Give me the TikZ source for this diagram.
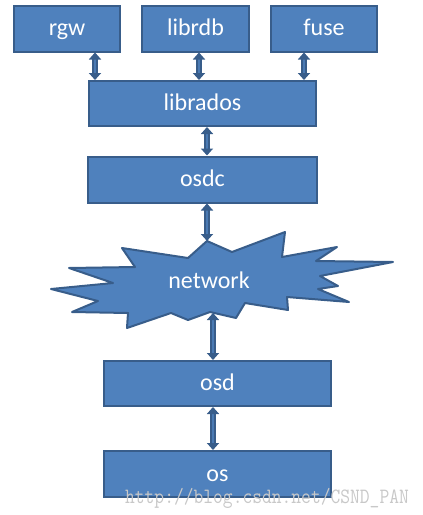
\documentclass[tikz,border=0pt]{standalone}
\usepackage{fontspec}
\setmainfont{Carlito}
\usetikzlibrary{arrows.meta}
\definecolor{boxblue}{HTML}{4F81BD}
\definecolor{edgeblue}{HTML}{385D8A}
\definecolor{markgray}{HTML}{C8C8C8}
\tikzset{>={Triangle[width=12pt,length=7pt]}}
\tikzset{
  layer/.style={draw=edgeblue, line width=2pt, fill=boxblue, text=white,
    font=\fontsize{24}{26}\selectfont, inner sep=0pt, minimum height=46,
    text height=16pt, text depth=2pt},
  cloud/.style={draw=edgeblue, line width=2pt, fill=boxblue, line join=round},
  link/.style={<->, edgeblue, line width=1.8pt, double=boxblue!80!edgeblue, double distance=1.6pt},
  wmark/.style={text=markgray, font=\fontsize{19}{20}\ttfamily, inner sep=0pt, yscale=1.15, transform shape}
}

\begin{document}
\begin{tikzpicture}[x=1pt, y=-1pt]
    \useasboundingbox (0,0) rectangle (423,515);
    % top row
    \node[layer, minimum width=106] (rgw) at (67,28.5) {rgw};
    \node[layer, minimum width=107] (librdb) at (195.5,28.5) {librdb};
    \node[layer, minimum width=106] (fuse) at (324,28.5) {fuse};
    \node[layer, minimum width=227, minimum height=45] (librados) at (202.5,103.5) {librados};
    \node[layer, minimum width=229] (osdc) at (202.5,179.5) {osdc};
    % network cloud
    \draw[cloud] (207,241) -- (232,252) -- (285,232) -- (282,257) -- (337,247)
        -- (316,261) -- (393,262) -- (320,276) -- (338,286) -- (318,289)
        -- (349,302) -- (287,297) -- (288,310) -- (245,303) -- (236,318)
        -- (210,312) -- (188,320) -- (171,313) -- (127,328) -- (128,313)
        -- (72,312) -- (98,301) -- (51,289) -- (113,283) -- (69,268)
        -- (135,267) -- (122,248) -- (188,258) -- cycle;
    \node[text=white, font=\fontsize{24}{26}\selectfont, text height=16pt, text depth=2pt] (network) at (209,281) {network};
    \coordinate (nettop) at (207,241);
    \coordinate (netbot) at (213,313);
    \node[layer, minimum width=227, minimum height=45] (osd) at (217.5,383.5) {osd};
    \node[layer, minimum width=227] (os) at (217.5,474) {os};
    % connectors
    \draw[link] ([xshift=-26]rgw.south east) -- ([xshift=-26]rgw.south east |- librados.north);
    \draw[link] ([xshift=3.5]librdb.south) -- ([xshift=3.5]librdb.south |- librados.north);
    \draw[link] ([xshift=-20]fuse.south) -- ([xshift=-20]fuse.south |- librados.north);
    \draw[link] ([xshift=4.5]librados.south) -- ([xshift=4.5]osdc.north);
    \draw[link] ([xshift=4.5]osdc.south) -- (nettop);
    \draw[link] (netbot) -- ([xshift=-4.5]osd.north);
    \draw[link] ([xshift=-4.5]osd.south) -- ([xshift=-4.5]os.north);
    % watermark
    \node[wmark] (url) at (267,498) {http://blog.csdn.net/CSND\_PAN};
\end{tikzpicture}
\end{document}
